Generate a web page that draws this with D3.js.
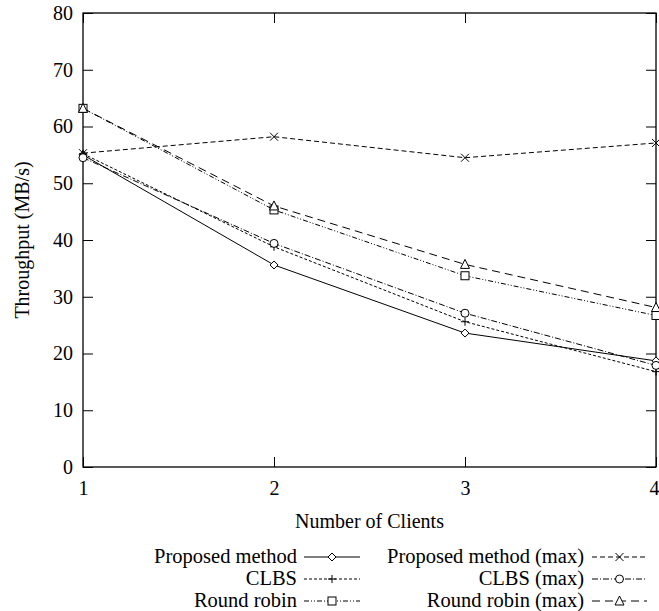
<!DOCTYPE html>
<html>
<head>
<meta charset="utf-8">
<script src="https://cdn.jsdelivr.net/npm/d3@7"></script>
<style>
  body { margin: 0; background: #fff; }
  text { font-family: "Liberation Serif", "DejaVu Serif", serif; fill: #000; }
</style>
</head>
<body>
<div id="container"></div>
<script>
// data
const clients = [1, 2, 3, 4];
const proposed = [55.0, 35.6, 23.6, 18.7];
const clbs = [55.2, 38.8, 25.6, 16.8];
const roundRobin = [63.2, 45.3, 33.7, 26.7];
const proposedMax = [55.3, 58.2, 54.5, 57.1];
const clbsMax = [54.5, 39.4, 27.1, 17.9];
const roundRobinMax = [63.2, 46.0, 35.7, 28.1];
const yTicks = [0, 10, 20, 30, 40, 50, 60, 70, 80];

const width = 659, height = 611;
const margin = { top: 13, right: 3, bottom: 144, left: 83 };

const series = [
  { name: "Proposed method", values: proposed, dash: null, marker: "diamond", col: 0, row: 0 },
  { name: "CLBS", values: clbs, dash: "3,2", marker: "plus", col: 0, row: 1 },
  { name: "Round robin", values: roundRobin, dash: "5,2,1,2,1,2", marker: "square", col: 0, row: 2 },
  { name: "Proposed method (max)", values: proposedMax, dash: "5,3", marker: "cross", col: 1, row: 0 },
  { name: "CLBS (max)", values: clbsMax, dash: "6,2,1,2", marker: "circle", col: 1, row: 1 },
  { name: "Round robin (max)", values: roundRobinMax, dash: "8,5", marker: "triangle", col: 1, row: 2 }
];

const svg = d3.select("#container").append("svg")
  .attr("width", width)
  .attr("height", height);

const xScale = d3.scaleLinear()
  .domain([1, 4])
  .range([margin.left, width - margin.right]);
const yScale = d3.scaleLinear()
  .domain([0, 80])
  .range([height - margin.bottom, margin.top]);

const x0 = xScale.range()[0], x1 = xScale.range()[1];
const y0 = yScale.range()[0], y1 = yScale.range()[1];

// inward ticks on all four sides
const tickLen = 10;
const axisLeft = d3.axisLeft(yScale).tickValues(yTicks).tickSize(-tickLen).tickPadding(10);
const axisRight = d3.axisRight(yScale).tickValues(yTicks).tickSize(-tickLen).tickFormat("");
const axisBottom = d3.axisBottom(xScale).tickValues(clients).tickSize(-tickLen).tickPadding(14).tickFormat(d3.format("d"));
const axisTop = d3.axisTop(xScale).tickValues(clients).tickSize(-tickLen).tickFormat("");

function styleAxis(g) {
  g.select(".domain").remove();
  g.selectAll(".tick line").attr("stroke", "#000").attr("stroke-width", 1);
  g.selectAll(".tick text").attr("font-size", 20).style("font-family", '"Liberation Serif", serif');
}

svg.append("g").attr("transform", `translate(${x0},0)`).call(axisLeft).call(styleAxis);
svg.append("g").attr("transform", `translate(${x1},0)`).call(axisRight).call(styleAxis);
const xAxisGroup = svg.append("g").attr("transform", `translate(0,${y0})`).call(axisBottom).call(styleAxis);
svg.append("g").attr("transform", `translate(0,${y1})`).call(axisTop).call(styleAxis);

// the last x label sits against the page edge
xAxisGroup.selectAll(".tick text")
  .filter(d => d === 4)
  .attr("text-anchor", "end")
  .attr("x", width - x1);

svg.append("rect")
  .attr("x", x0).attr("y", y1)
  .attr("width", x1 - x0).attr("height", y0 - y1)
  .attr("fill", "none").attr("stroke", "#000").attr("stroke-width", 1.3);

// axis titles
svg.append("text")
  .attr("x", (x0 + x1) / 2).attr("y", 528)
  .attr("text-anchor", "middle").attr("font-size", 20)
  .text("Number of Clients");
svg.append("text")
  .attr("transform", `translate(29,${(y0 + y1) / 2}) rotate(-90)`)
  .attr("text-anchor", "middle").attr("font-size", 20)
  .text("Throughput (MB/s)");

const symbolSize = 4;
function drawMarker(g, type, cx, cy) {
  const s = symbolSize;
  const m = g.append("g").attr("transform", `translate(${cx},${cy})`)
    .attr("fill", "#fff").attr("stroke", "#000").attr("stroke-width", 1);
  if (type === "diamond") m.append("path").attr("d", `M0,${-s}L${s},0L0,${s}L${-s},0Z`);
  if (type === "plus") m.append("path").attr("d", `M${-s},0H${s}M0,${-s}V${s}`);
  if (type === "square") m.append("rect").attr("x", -s).attr("y", -s).attr("width", 2 * s).attr("height", 2 * s);
  if (type === "cross") m.append("path").attr("d", `M${-s},${-s}L${s},${s}M${-s},${s}L${s},${-s}`);
  if (type === "circle") m.append("circle").attr("r", s);
  if (type === "triangle") m.append("path").attr("d", `M0,${-s - 1}L${s + 0.5},${s}L${-s - 0.5},${s}Z`);
}

const lineGen = d3.line()
  .x((d, i) => xScale(clients[i]))
  .y(d => yScale(d));

const plot = svg.append("g");
series.forEach(s => {
  plot.append("path")
    .datum(s.values)
    .attr("d", lineGen)
    .attr("fill", "none")
    .attr("stroke", "#000")
    .attr("stroke-width", 1)
    .attr("stroke-dasharray", s.dash);
  s.values.forEach((v, i) => drawMarker(plot, s.marker, xScale(clients[i]), yScale(v)));
});

// legend
const legendRows = [557, 579, 601];
const legendCols = [
  { textEnd: 297, lineStart: 304, lineEnd: 360 },
  { textEnd: 584, lineStart: 592, lineEnd: 647 }
];
const legend = svg.append("g");
series.forEach(s => {
  const c = legendCols[s.col];
  const y = legendRows[s.row];
  legend.append("text")
    .attr("x", c.textEnd).attr("y", y + 6)
    .attr("text-anchor", "end").attr("font-size", 20.5)
    .text(s.name);
  legend.append("line")
    .attr("x1", c.lineStart).attr("x2", c.lineEnd)
    .attr("y1", y).attr("y2", y)
    .attr("stroke", "#000").attr("stroke-width", 1)
    .attr("stroke-dasharray", s.dash);
  drawMarker(legend, s.marker, (c.lineStart + c.lineEnd) / 2, y);
});
</script>
</body>
</html>
